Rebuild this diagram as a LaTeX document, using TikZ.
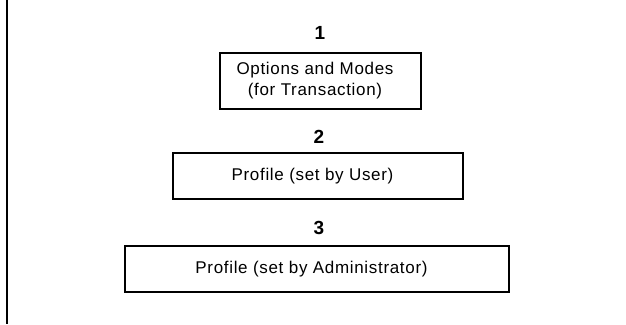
\documentclass[tikz,border=0pt]{standalone}
\usepackage{fontspec}
\setmainfont{Liberation Sans}
\newfontfamily\boxfont[LetterSpace=4]{Liberation Sans}
% labels sit a little left of the box centre
\newcommand{\lpad}{\hspace*{11pt}}
\begin{document}
\begin{tikzpicture}[x=1pt,y=-1pt,
  levelbox/.style={draw=black, line width=1.3pt, inner sep=0pt, align=center,
    font=\boxfont\fontsize{17}{21}\selectfont},
  levelnum/.style={inner sep=0pt, font=\bfseries\fontsize{19}{19}\selectfont}]
  \useasboundingbox (0,0) rectangle (626,324);
  % left margin rule
  \coordinate (rtop) at (7,0);
  \coordinate (rbot) at (7,324);
  \draw[line width=1.5pt] (rtop) -- (rbot);
  % precedence levels
  \node[levelnum] (n1) at (320,33) {1};
  \node[levelbox, minimum width=201pt, minimum height=56pt] (b1) at (320.5,81)
    {Options and Modes\lpad\\(for Transaction)\lpad};
  \node[levelnum] (n2) at (319,137) {2};
  \node[levelbox, minimum width=290pt, minimum height=46pt] (b2) at (318,176)
    {Profile (set by User)\lpad};
  \node[levelnum] (n3) at (319,228) {3};
  \node[levelbox, minimum width=384pt, minimum height=46pt] (b3) at (317,269)
    {Profile (set by Administrator)\lpad};
\end{tikzpicture}
\end{document}
